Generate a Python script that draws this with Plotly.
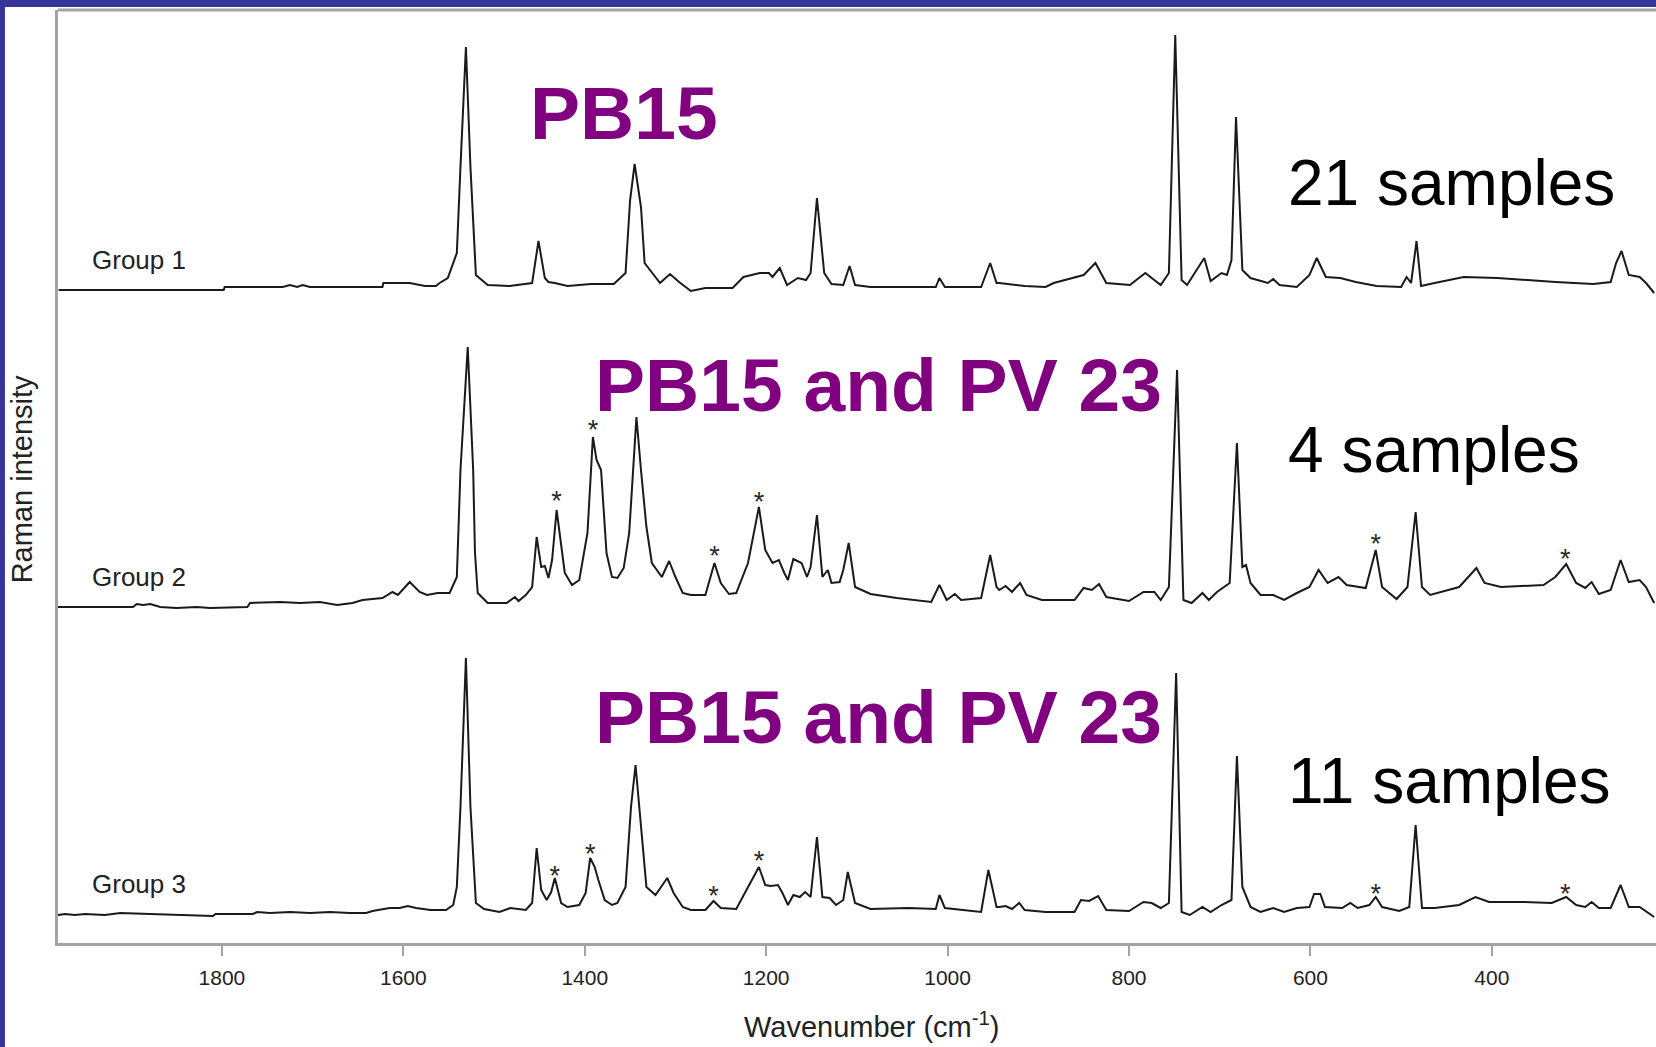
import plotly.graph_objects as go

# ---------------- data ----------------
TICKS = [1800, 1600, 1400, 1200, 1000, 800, 600, 400]

GROUP_NAMES = ["Group 1", "Group 2", "Group 3"]
PIGMENT_LABELS = ["PB15", "PB15 and PV 23", "PB15 and PV 23"]
SAMPLE_LABELS = ["21 samples", "4 samples", "11 samples"]
OFFSETS = [653, 336, 29]  # vertical stacking offsets of the three spectra (a.u.)

# Group 1 spectrum: wavenumber (cm-1) and relative Raman intensity (a.u.)
WN1 = [1980, 1879, 1798, 1797, 1733, 1725, 1717, 1711, 1703, 1623, 1622, 1593, 1576, 1564, 1560,
       1551, 1541, 1537, 1531, 1526, 1520, 1507, 1483, 1458, 1451, 1444, 1440, 1433, 1419, 1393,
       1368, 1355, 1350, 1345, 1338, 1334, 1317, 1306, 1296, 1283, 1267, 1237, 1225, 1207, 1197,
       1193, 1185, 1177, 1165, 1156, 1151, 1144, 1136, 1128, 1115, 1108, 1102, 1085, 1013, 1009,
       1003, 963, 953, 946, 943, 915, 892, 883, 850, 837, 825, 799, 782, 765, 756, 749, 742, 736,
       717, 710, 698, 692, 687, 682, 675, 666, 647, 641, 634, 615, 601, 593, 583, 567, 550, 527,
       500, 494, 489, 483, 478, 463, 431, 394, 366, 330, 288, 269, 263, 257, 249, 237, 230, 221]
INT1 = [0, 0, 0, 3, 3, 5, 3, 5, 3, 3, 7, 7, 4, 4, 7,
        12, 37, 123, 243, 123, 15, 5, 4, 7, 49, 12, 8, 7, 4, 6,
        6, 17, 90, 126, 83, 27, 7, 16, 8, -1, 2, 2, 13, 17, 17,
        13, 22, 5, 12, 10, 17, 92, 17, 6, 5, 24, 5, 3, 3, 12,
        3, 3, 27, 7, 7, 4, 3, 7, 15, 27, 7, 5, 17, 5, 17, 255, 10, 5,
        32, 9, 17, 15, 30, 173, 20, 12, 7, 11, 5, 3, 15, 32, 13, 12, 8, 4,
        3, 13, 7, 49, 4, 7, 13, 12, 10, 8, 6, 8, 27, 39, 15, 13, 7, -3]

# Group 2 spectrum
WN2 = [1981, 1898, 1894, 1887, 1879, 1868, 1850, 1828, 1813, 1772, 1769, 1736, 1714, 1692, 1673,
       1656, 1645, 1623, 1612, 1606, 1593, 1582, 1574, 1562, 1549, 1541, 1537, 1529, 1523, 1521,
       1518, 1507, 1486, 1477, 1473, 1465, 1458, 1453, 1448, 1444, 1440, 1436, 1431, 1426, 1422,
       1414, 1406, 1397, 1391, 1387, 1382, 1376, 1370, 1364, 1357, 1351, 1343, 1338, 1332, 1326,
       1315, 1307, 1300, 1292, 1283, 1267, 1257, 1250, 1241, 1233, 1220, 1208, 1201, 1193, 1186,
       1180, 1176, 1170, 1161, 1155, 1151, 1144, 1138, 1132, 1128, 1119, 1115, 1109, 1102, 1085,
       1056, 1018, 1009, 1001, 992, 985, 963, 953, 946, 943, 936, 929, 920, 913, 896, 860, 850,
       841, 833, 825, 800, 784, 772, 765, 756, 747, 740, 731, 719, 712, 703, 689, 681, 675, 671,
       666, 655, 641, 629, 615, 601, 591, 581, 569, 560, 539, 528, 521, 505, 493, 484, 477, 468,
       436, 417, 408, 390, 343, 330, 318, 307, 297, 290, 282, 269, 258, 249, 237, 230, 221]
INT2 = [0, 0, 3, 2, 3, 0, -1, 0, -1, 0, 4, 5, 4, 5, 2,
        4, 7, 9, 15, 12, 25, 15, 12, 14, 14, 30, 137, 260, 137, 54,
        14, 4, 4, 10, 6, 12, 20, 70, 40, 41, 29, 47, 97, 60, 34,
        22, 27, 74, 170, 147, 137, 54, 30, 29, 39, 74, 190, 137, 80, 44,
        30, 46, 30, 14, 12, 12, 44, 24, 13, 14, 44, 100, 57, 44, 47,
        34, 27, 48, 44, 30, 40, 92, 30, 37, 24, 25, 37, 64, 20, 13,
        9, 5, 22, 7, 13, 7, 9, 52, 20, 17, 21, 15, 24, 12, 7, 7, 19,
        17, 23, 10, 6, 15, 15, 7, 20, 237, 7, 4, 14, 7, 15, 24, 164, 40, 42,
        24, 12, 12, 7, 14, 20, 37, 24, 30, 22, 19, 57, 20, 8, 20, 95, 20, 12,
        20, 39, 24, 20, 22, 30, 43, 24, 19, 25, 13, 17, 47, 25, 27, 20, 4]

# Group 3 spectrum
WN3 = [1981, 1973, 1962, 1951, 1929, 1912, 1879, 1810, 1807, 1766, 1761, 1747, 1725, 1703, 1681,
       1659, 1641, 1634, 1615, 1604, 1595, 1586, 1570, 1553, 1545, 1541, 1537, 1531, 1526, 1520,
       1511, 1494, 1482, 1465, 1458, 1453, 1448, 1442, 1437, 1433, 1426, 1419, 1406, 1399, 1394,
       1389, 1385, 1378, 1370, 1364, 1355, 1349, 1344, 1338, 1332, 1322, 1309, 1302, 1292, 1283,
       1267, 1258, 1250, 1233, 1220, 1208, 1201, 1195, 1187, 1182, 1176, 1170, 1163, 1157, 1151,
       1144, 1138, 1130, 1123, 1115, 1110, 1102, 1085, 1043, 1013, 1009, 1003, 963, 955, 946,
       943, 936, 929, 921, 915, 892, 860, 853, 844, 834, 825, 800, 784, 775, 765, 756, 748, 742,
       733, 719, 710, 698, 687, 681, 675, 666, 655, 641, 629, 615, 601, 596, 589, 584, 565, 556,
       548, 535, 528, 521, 502, 491, 484, 477, 463, 436, 418, 403, 366, 334, 318, 307, 297, 290,
       282, 269, 258, 249, 237, 221]
INT3 = [-1, 0, -1, 0, -1, 1, 0, -2, 0, 0, 2, 1, 2, 1, 2,
        1, 1, 3, 6, 6, 8, 6, 4, 4, 9, 27, 107, 256, 107, 11,
        5, 2, 6, 4, 11, 66, 24, 14, 22, 36, 11, 7, 9, 21, 56,
        47, 34, 14, 9, 11, 27, 107, 149, 91, 27, 19, 36, 21, 7, 4,
        4, 13, 6, 5, 27, 47, 29, 28, 29, 21, 9, 19, 17, 22, 17,
        77, 17, 16, 9, 14, 42, 11, 5, 6, 5, 19, 6, 2, 44, 7,
        7, 8, 5, 11, 4, 2, 2, 14, 13, 18, 4, 3, 12, 11, 6, 11, 241, 2,
        -1, 7, 2, 9, 14, 158, 27, 7, 2, 6, 2, 6, 7, 20, 20, 7, 6, 11,
        6, 9, 17, 7, 3, 7, 89, 6, 6, 9, 17, 12, 12, 11, 17, 9, 7, 12,
        6, 6, 29, 7, 7, -3]

# PV 23 bands marked with asterisks (wavenumber, height of the mark above baseline)
STAR2_WN = [1431, 1391, 1257, 1208, 528, 319]
STAR2_H = [112, 183, 57, 111, 69, 54]
STAR3_WN = [1433, 1394, 1258, 1208, 528, 319]
STAR3_H = [44, 66, 24, 59, 26, 26]

# ---------------- figure ----------------
FONT = "Liberation Sans, Arial, Helvetica, sans-serif"
LINE_COLOR = "#1a1a1a"
FRAME = "#a3a3a3"
PURPLE = "#800080"

fig = go.Figure()
for wn, inten, off in [(WN1, INT1, OFFSETS[0]), (WN2, INT2, OFFSETS[1]), (WN3, INT3, OFFSETS[2])]:
    fig.add_trace(go.Scatter(x=wn, y=[off + v for v in inten], mode="lines",
                             line=dict(color=LINE_COLOR, width=2), hoverinfo="skip",
                             showlegend=False))

for swn, sh, off in [(STAR2_WN, STAR2_H, OFFSETS[1]), (STAR3_WN, STAR3_H, OFFSETS[2])]:
    fig.add_trace(go.Scatter(x=swn, y=[off + h - 8 for h in sh], mode="text", text=["*"] * len(swn),
                             textposition="middle center",
                             textfont=dict(family=FONT, size=27, color="#2a2a2a"),
                             hoverinfo="skip", showlegend=False))

# group labels
for name, off in zip(GROUP_NAMES, OFFSETS):
    fig.add_annotation(x=1945, y=off + 30, text=name, showarrow=False, xanchor="left",
                       yanchor="middle", font=dict(family=FONT, size=26, color="#222222"))

# pigment labels
pig_pos = [(1356.5, 830), (1076, 558), (1076, 226)]
for lab, (px, py) in zip(PIGMENT_LABELS, pig_pos):
    fig.add_annotation(x=px, y=py, text="<b>%s</b>" % lab, showarrow=False, xanchor="center",
                       yanchor="middle", font=dict(family=FONT, size=75, color=PURPLE))

# sample counts
samp_y = [760, 493, 162]
for lab, py in zip(SAMPLE_LABELS, samp_y):
    fig.add_annotation(x=627, y=py, text=lab, showarrow=False, xanchor="left",
                       yanchor="middle", font=dict(family=FONT, size=64, color="#000000"))

# axis titles
fig.add_annotation(xref="paper", yref="paper", x=0.5088, y=-0.0875, text="Wavenumber (cm<sup>-1</sup>)",
                   showarrow=False, xanchor="center", yanchor="middle",
                   font=dict(family=FONT, size=29, color="#222222"))
fig.add_annotation(xref="paper", yref="paper", x=-0.0225, y=0.497, text="Raman intensity",
                   textangle=-90, showarrow=False, xanchor="center", yanchor="middle",
                   font=dict(family=FONT, size=29, color="#222222"))

# page border (blue) and top frame line
BLUE = "#36369a"
fig.add_shape(type="rect", xref="paper", yref="paper", x0=-0.0363, x1=-0.0332, y0=-0.12, y1=1.0115,
              fillcolor=BLUE, line=dict(width=0), layer="above")
fig.add_shape(type="rect", xref="paper", yref="paper", x0=-0.0363, x1=1.0, y0=1.0032, y1=1.0115,
              fillcolor=BLUE, line=dict(width=0), layer="above")
fig.add_shape(type="line", xref="paper", yref="paper", x0=0, x1=1, y0=1.0, y1=1.0,
              line=dict(color=FRAME, width=3), layer="above")

fig.update_layout(
    width=1656, height=1047,
    margin=dict(l=58, r=0, t=10, b=104),
    paper_bgcolor="white", plot_bgcolor="white",
    showlegend=False,
    font=dict(family=FONT),
    xaxis=dict(range=[1980.7, 219], tickvals=TICKS, ticks="outside", ticklen=10, tickwidth=1.5,
               tickcolor=FRAME, showline=True, linecolor=FRAME, linewidth=3, showgrid=False,
               zeroline=False, ticklabelstandoff=4,
               tickfont=dict(family=FONT, size=21, color="#222222")),
    yaxis=dict(range=[0, 933], showticklabels=False, ticks="", showline=True, linecolor=FRAME,
               linewidth=3, showgrid=False, zeroline=False),
)

fig.write_html("out.html", config={"displayModeBar": False},
               post_script="document.body.style.margin='0';")
